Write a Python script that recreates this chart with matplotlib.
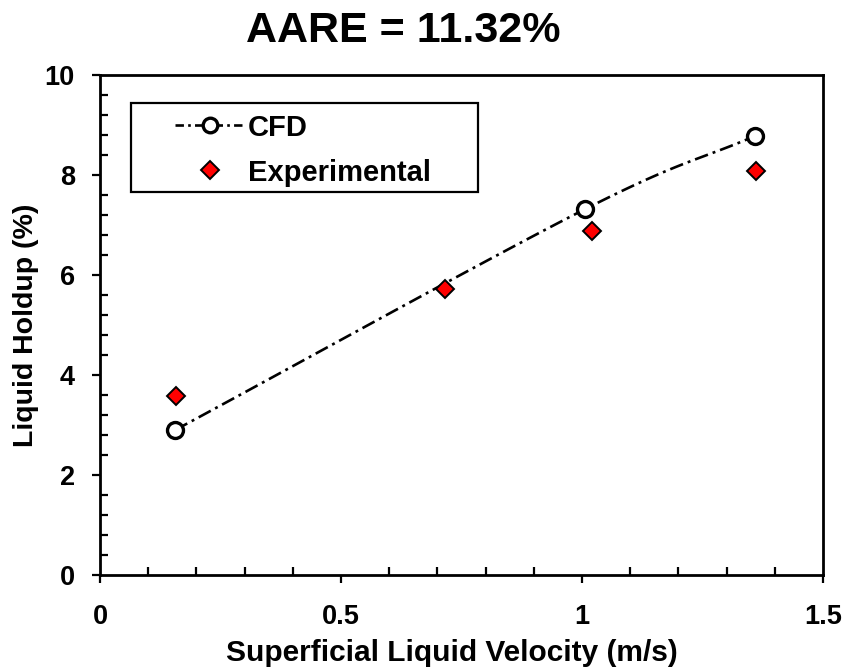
"""Liquid holdup vs superficial liquid velocity: CFD vs experiment."""

import numpy as np
import matplotlib.pyplot as plt
from matplotlib.patches import Rectangle
from matplotlib.ticker import MultipleLocator

plt.rcParams["font.family"] = ["Liberation Sans", "DejaVu Sans"]
plt.rcParams["font.weight"] = "bold"

# data
cfd_velocity = [0.156, 1.007, 1.359]
cfd_holdup = [2.90, 7.32, 8.78]
exp_velocity = [0.158, 0.716, 1.021, 1.360]
exp_holdup = [3.59, 5.72, 6.89, 8.09]
series_names = ["CFD", "Experimental"]
title_text = "AARE = 11.32%"


def smooth_curve(x, y, n=60):
    """Catmull-Rom style smoothing, like a spreadsheet 'smoothed line'."""
    pts = np.column_stack([x, y]).astype(float)
    ext = np.vstack([2 * pts[0] - pts[1], pts, 2 * pts[-1] - pts[-2]])
    out = []
    for i in range(1, len(ext) - 2):
        p0, p1, p2, p3 = ext[i - 1], ext[i], ext[i + 1], ext[i + 2]
        t = np.linspace(0, 1, n)[:, None]
        seg = 0.5 * ((2 * p1) + (-p0 + p2) * t
                     + (2 * p0 - 5 * p1 + 4 * p2 - p3) * t ** 2
                     + (-p0 + 3 * p1 - 3 * p2 + p3) * t ** 3)
        out.append(seg if i == 1 else seg[1:])
    out = np.vstack(out)
    return out[:, 0], out[:, 1]


circle_style = dict(marker="o", ms=11.5, mfc="white", mec="black", mew=2.4)
diamond_style = dict(marker="D", ms=9, mfc="#ff0000", mec="black", mew=1.4)
dash = (0, (5.2, 1.9, 1.1, 1.9))

fig = plt.figure(figsize=(8.48, 6.70), dpi=100)
ax = fig.add_axes([100 / 848, 95 / 670, 723 / 848, 500 / 670])

sx, sy = smooth_curve(cfd_velocity, cfd_holdup)
ax.plot(sx, sy, color="black", lw=1.9, linestyle=dash)
ax.plot(cfd_velocity, cfd_holdup, linestyle="none", zorder=3, **circle_style)
ax.plot(exp_velocity, exp_holdup, linestyle="none", zorder=4, **diamond_style)

# legend box, drawn by hand to match the spreadsheet layout
ax.add_patch(Rectangle((0.043, 0.766), 0.480, 0.178, transform=ax.transAxes,
                       fill=False, edgecolor="black", lw=1.6, zorder=5))
ax.plot([0.1037, 0.1964], [0.90, 0.90], transform=ax.transAxes,
        color="black", lw=1.9, linestyle=(0, (3.2, 1.6, 1, 1.6)), zorder=6)
ax.plot([0.1522], [0.90], transform=ax.transAxes, zorder=7,
        **dict(circle_style, ms=10.5))
ax.plot([0.1522], [0.81], transform=ax.transAxes, zorder=7, **diamond_style)
for yy, name in zip([0.90, 0.81], series_names):
    ax.text(0.2047, yy, name, transform=ax.transAxes, fontsize=21,
            fontweight="bold", ha="left", va="center_baseline", zorder=7)

ax.set_xlim(0, 1.5)
ax.set_ylim(0, 10)
ax.xaxis.set_minor_locator(MultipleLocator(0.1))
ax.yaxis.set_major_locator(MultipleLocator(2))
ax.yaxis.set_minor_locator(MultipleLocator(0.4))
ax.set_xticks([0, 0.5, 1, 1.5], ["0", "0.5", "1", "1.5"])
ax.tick_params(which="major", direction="out", length=6, width=1.6,
               labelsize=19.5, pad=12)
ax.tick_params(axis="x", which="major", pad=15)
ax.tick_params(which="minor", direction="in", length=6, width=1.6)
ax.tick_params(top=False, right=False, which="both")
for lbl in ax.get_xticklabels() + ax.get_yticklabels():
    lbl.set_fontweight("bold")
for sp in ax.spines.values():
    sp.set_linewidth(2)

ax.set_xlabel("Superficial Liquid Velocity (m/s)", fontsize=21.5,
              fontweight="bold")
ax.xaxis.set_label_coords(0.487, -0.128)
ax.set_ylabel("Liquid Holdup (%)", fontsize=20.5, fontweight="bold",
              labelpad=4)

fig.text(403 / 848, 1 - 27 / 670, title_text, fontsize=31, fontweight="bold",
         ha="center", va="center_baseline")

fig.savefig("out.png", dpi=100)
